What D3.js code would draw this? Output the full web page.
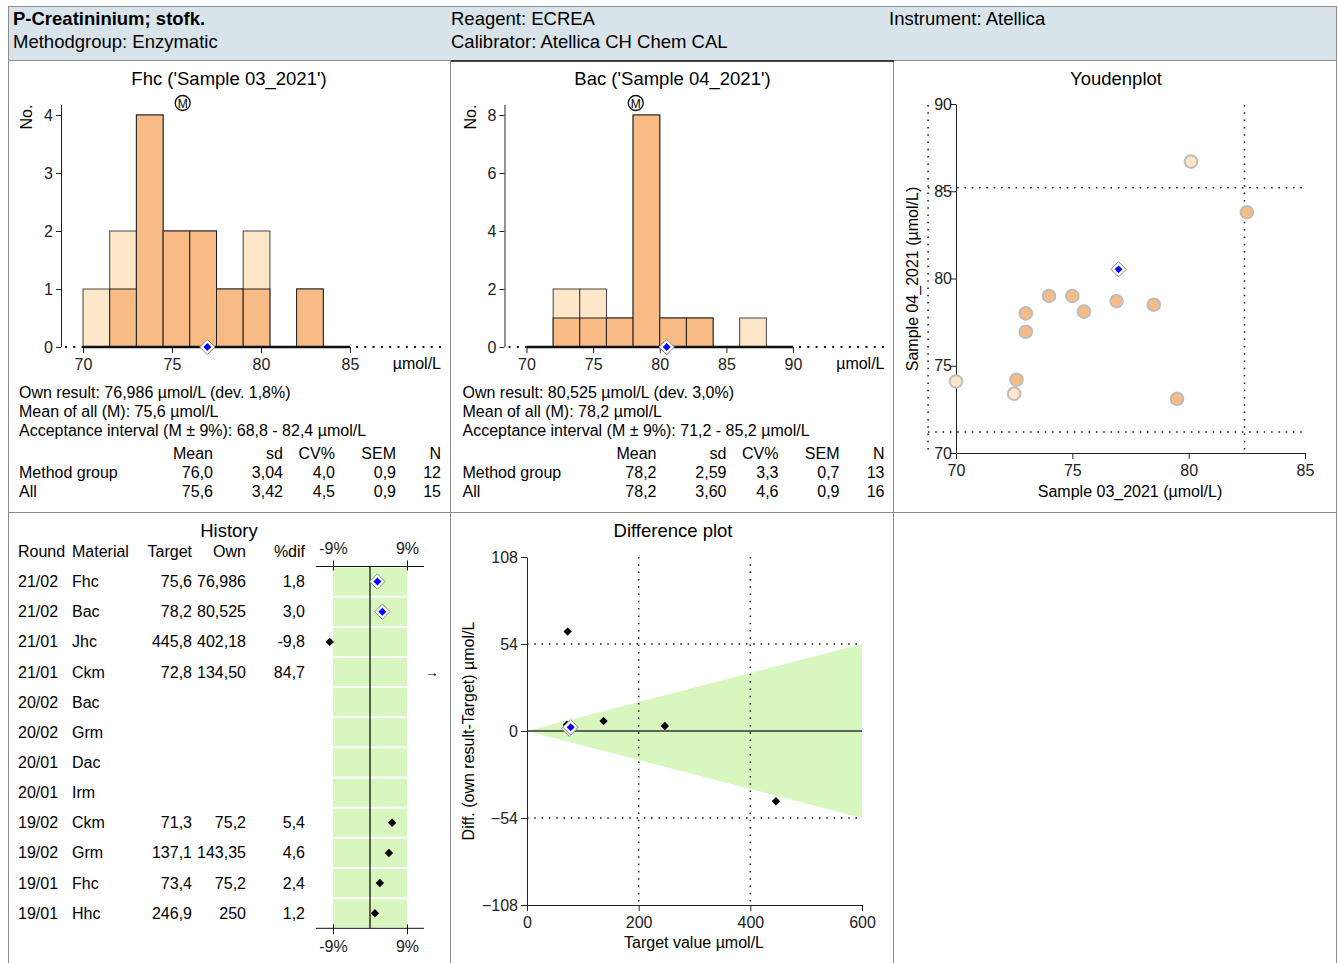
<!DOCTYPE html>
<html><head><meta charset="utf-8">
<script src="https://cdn.jsdelivr.net/npm/d3@7"></script>
<style>
body{margin:0;background:#fff}
svg{font-family:"Liberation Sans",Arial,sans-serif;font-size:16px}
</style></head><body>
<svg id="chart" width="1338" height="963"></svg>
<script>
// histogram data (bin edges, counts all / method group)
var fhcEdges = [70,71.5,73,74.5,76,77.5,79,80.5,82,83.5];
var fhcAll = [1,2,4,2,2,1,2,0,1];
var fhcMethod = [0,1,4,2,2,1,1,0,1];
var bacEdges = [72,74,76,78,80,82,84,86,88];
var bacAll = [2,2,1,8,1,1,0,1];
var bacMethod = [1,1,1,8,1,1,0,0];

var statCols = ["Mean","sd","CV%","SEM","N"];
var fhcStats = [["Method group","76,0","3,04","4,0","0,9","12"],["All","75,6","3,42","4,5","0,9","15"]];
var bacStats = [["Method group","78,2","2,59","3,3","0,7","13"],["All","78,2","3,60","4,6","0,9","16"]];

// youden plot points
var youdenX = [70.0,72.5,72.6,73.0,73.0,74.0,75.0,75.5,76.9,78.5,79.5,80.1,82.5];
var youdenY = [74.1,73.4,74.2,78.0,76.95,79.0,79.0,78.1,78.7,78.5,73.1,86.7,83.8];
var youdenMethod = [0,0,1,1,1,1,1,1,1,1,1,0,1];
var ownX = 76.986, ownY = 80.525;
var limX = [68.8,82.4], limY = [71.2,85.2];

// history
var histRound = ["21/02","21/02","21/01","21/01","20/02","20/02","20/01","20/01","19/02","19/02","19/01","19/01"];
var histMaterial = ["Fhc","Bac","Jhc","Ckm","Bac","Grm","Dac","Irm","Ckm","Grm","Fhc","Hhc"];
var histTarget = ["75,6","78,2","445,8","72,8","","","","","71,3","137,1","73,4","246,9"];
var histOwn = ["76,986","80,525","402,18","134,50","","","","","75,2","143,35","75,2","250"];
var histDif = [1.8,3.0,-9.8,84.7,null,null,null,null,5.4,4.6,2.4,1.2];
var histCurrent = [1,1,0,0,0,0,0,0,0,0,0,0];

var svg = d3.select("#chart");
var ink = "#222";
var orange = "#f9bb85", lightOrange = "#fee6c8", green = "#d8f7bf";
var tickFont = 16, titleFont = 18.5;
var num = function(s){ return +s.replace(",", "."); };
var fmt = function(v){ return v.toFixed(1).replace(".", ","); };

// ----- frame
svg.append("rect").attr("x",8.5).attr("y",6.5).attr("width",1328).attr("height",54)
  .attr("fill","#d8e4ea").attr("stroke","#8c8c8c");
svg.append("text").attr("x",13).attr("y",25).attr("font-weight","bold").attr("font-size",18.5).text("P-Creatininium; stofk.");
svg.append("text").attr("x",13).attr("y",48).attr("font-size",18.5).text("Methodgroup: Enzymatic");
svg.append("text").attr("x",451).attr("y",25).attr("font-size",18.5).text("Reagent: ECREA");
svg.append("text").attr("x",451).attr("y",48).attr("font-size",18.5).text("Calibrator: Atellica CH Chem CAL");
svg.append("text").attr("x",889).attr("y",25).attr("font-size",18.5).text("Instrument: Atellica");

[[8.5,60,8.5,963],[450.5,60,450.5,963],[893.5,60,893.5,963],[1336.5,60,1336.5,963],[8,512.5,1337,512.5]]
  .forEach(function(l){
    svg.append("line").attr("x1",l[0]).attr("y1",l[1]).attr("x2",l[2]).attr("y2",l[3]).attr("stroke","#8c8c8c");
  });
svg.append("line").attr("x1",451).attr("x2",894).attr("y1",61).attr("y2",61).attr("stroke","#111").attr("stroke-width",1.5);

function ownDiamond(g, x, y, s){
  s = s || 1;
  g.append("path").attr("d", d3.symbol(d3.symbolDiamond2, 150*s*s)())
    .attr("transform","translate("+x+","+y+")").attr("fill","#fff").attr("stroke","#888").attr("stroke-width",1);
  g.append("path").attr("d", d3.symbol(d3.symbolDiamond2, 40*s*s)())
    .attr("transform","translate("+x+","+y+")").attr("fill","#0000ff");
}
function blackDiamond(g, x, y){
  g.append("path").attr("d", d3.symbol(d3.symbolDiamond2, 45)())
    .attr("transform","translate("+x+","+y+")").attr("fill","#000");
}
function styleAxis(a){
  a.attr("font-size",tickFont).attr("font-family",null);
  a.selectAll("line").attr("stroke",ink);
  a.selectAll("text").attr("fill",ink);
}

// ----- histograms
function histogram(dx, title, edges, all, method, xDom, xTicks, yMax, yTicks, own, mean, lines, stats){
  var g = svg.append("g");
  var x = d3.scaleLinear().domain(xDom).range([83+dx, 350+dx + (xDom[1]-xDom[0] === 20 ? -0.5 : 0)]);
  var y = d3.scaleLinear().domain([0,yMax]).range([347,115]);
  var ax = 61 + dx;

  g.append("text").attr("x",229+dx).attr("y",85).attr("text-anchor","middle").attr("font-size",titleFont).text(title);

  var bins = d3.range(all.length);
  g.selectAll(".all").data(bins.filter(function(i){return all[i]>0;})).join("rect")
    .attr("x",function(i){return x(edges[i]);}).attr("width",function(i){return x(edges[i+1])-x(edges[i]);})
    .attr("y",function(i){return y(all[i]);}).attr("height",function(i){return y(0)-y(all[i]);})
    .attr("fill",lightOrange).attr("stroke","#444").attr("stroke-width",1);
  g.selectAll(".meth").data(bins.filter(function(i){return method[i]>0;})).join("rect")
    .attr("x",function(i){return x(edges[i]);}).attr("width",function(i){return x(edges[i+1])-x(edges[i]);})
    .attr("y",function(i){return y(method[i]);}).attr("height",function(i){return y(0)-y(method[i]);})
    .attr("fill",orange).attr("stroke","#222").attr("stroke-width",1);

  // y axis
  var yAxis = g.append("g").attr("transform","translate("+ax+",0)")
    .call(d3.axisLeft(y).tickValues(yTicks).tickFormat(d3.format("d")).tickSize(5).tickSizeOuter(0));
  yAxis.select(".domain").remove();
  styleAxis(yAxis);
  g.append("line").attr("x1",ax+0.5).attr("x2",ax+0.5).attr("y1",105).attr("y2",347).attr("stroke",ink);
  g.append("text").attr("transform","translate("+(32+dx)+",117) rotate(-90)").attr("text-anchor","middle").attr("font-size",tickFont).text("No.");

  // x axis
  var xAxis = g.append("g").attr("transform","translate(0,347)")
    .call(d3.axisBottom(x).tickValues(xTicks).tickSize(6).tickSizeOuter(0));
  xAxis.select(".domain").remove();
  styleAxis(xAxis);
  xAxis.selectAll("text").attr("dy","0.85em");
  g.append("line").attr("x1",x(xDom[0])).attr("x2",x(xDom[1])).attr("y1",347).attr("y2",347).attr("stroke","#111").attr("stroke-width",2.5);
  g.append("line").attr("x1",ax+4).attr("x2",x(xDom[0])).attr("y1",347).attr("y2",347)
    .attr("stroke","#111").attr("stroke-width",2).attr("stroke-dasharray","2,6.3");
  g.append("line").attr("x1",x(xDom[1])+6).attr("x2",442+dx).attr("y1",347).attr("y2",347)
    .attr("stroke","#111").attr("stroke-width",2).attr("stroke-dasharray","2,6.3");
  g.append("text").attr("x",441+dx).attr("y",369).attr("text-anchor","end").attr("font-size",tickFont).text("µmol/L");

  // mean marker and own result
  g.append("circle").attr("cx",x(mean)).attr("cy",103).attr("r",7.5).attr("fill","#fff").attr("stroke","#111").attr("stroke-width",1.3);
  g.append("text").attr("x",x(mean)).attr("y",107.5).attr("text-anchor","middle").attr("font-size",12).text("M");
  ownDiamond(g, x(own), 347);

  // text block
  lines.forEach(function(t,i){
    g.append("text").attr("x",19+dx).attr("y",398+i*19).text(t);
  });
  var colX = [213,283,335,396,441];
  statCols.forEach(function(c,j){
    g.append("text").attr("x",colX[j]+dx).attr("y",459).attr("text-anchor","end").text(c);
  });
  stats.forEach(function(r,i){
    r.forEach(function(v,j){
      g.append("text").attr("x", j===0 ? 19+dx : colX[j-1]+dx).attr("y",478+i*18.5)
        .attr("text-anchor", j===0 ? "start" : "end").text(v);
    });
  });
}

histogram(0, "Fhc ('Sample 03_2021')", fhcEdges, fhcAll, fhcMethod, [70,85], [70,75,80,85], 4, [0,1,2,3,4], 76.986, 75.6,
  ["Own result: 76,986 µmol/L (dev. 1,8%)","Mean of all (M): 75,6 µmol/L","Acceptance interval (M ± 9%): 68,8 - 82,4 µmol/L"], fhcStats);
histogram(443.5, "Bac ('Sample 04_2021')", bacEdges, bacAll, bacMethod, [70,90], [70,75,80,85,90], 8, [0,2,4,6,8], 80.525, 78.2,
  ["Own result: 80,525 µmol/L (dev. 3,0%)","Mean of all (M): 78,2 µmol/L","Acceptance interval (M ± 9%): 71,2 - 85,2 µmol/L"], bacStats);

// ----- youden plot
(function(){
  var g = svg.append("g");
  var x = d3.scaleLinear().domain([70,85]).range([956,1305]);
  var y = d3.scaleLinear().domain([70,90]).range([453,104]);
  g.append("text").attr("x",1116).attr("y",85).attr("text-anchor","middle").attr("font-size",titleFont).text("Youdenplot");

  limX.forEach(function(v){
    g.append("line").attr("x1",x(v)).attr("x2",x(v)).attr("y1",105).attr("y2",453)
      .attr("stroke","#111").attr("stroke-width",1.5).attr("stroke-dasharray","1.5,5.8");
  });
  limY.forEach(function(v){
    g.append("line").attr("x1",928).attr("x2",1303).attr("y1",y(v)).attr("y2",y(v))
      .attr("stroke","#111").attr("stroke-width",1.5).attr("stroke-dasharray","1.5,5.8");
  });

  var xa = g.append("g").attr("transform","translate(0,453)").call(d3.axisBottom(x).tickValues([70,75,80,85]).tickSize(6).tickSizeOuter(0));
  var ya = g.append("g").attr("transform","translate(956,0)").call(d3.axisLeft(y).tickValues([70,75,80,85,90]).tickSize(6).tickSizeOuter(0));
  [xa,ya].forEach(function(a){
    styleAxis(a);
    a.select(".domain").attr("stroke",ink);
  });
  xa.selectAll("text").attr("dy","0.85em");
  ya.selectAll("text").attr("x",-4);
  g.append("text").attr("x",1130).attr("y",497).attr("text-anchor","middle").attr("font-size",tickFont).text("Sample 03_2021 (µmol/L)");
  g.append("text").attr("transform","translate(918,279) rotate(-90)").attr("text-anchor","middle").attr("font-size",tickFont).text("Sample 04_2021 (µmol/L)");

  g.selectAll(".pt").data(d3.range(youdenX.length)).join("circle")
    .attr("cx",function(i){return x(youdenX[i]);}).attr("cy",function(i){return y(youdenY[i]);}).attr("r",6.3)
    .attr("fill",function(i){return youdenMethod[i] ? orange : lightOrange;})
    .attr("stroke","#bdbdbd").attr("stroke-width",2);
  ownDiamond(g, x(ownX), y(ownY));
})();

// ----- history
(function(){
  var g = svg.append("g");
  var x = d3.scaleLinear().domain([-9,9]).range([333,407]);
  var rowH = 30.15, top = 566.5;
  g.append("text").attr("x",229).attr("y",537).attr("text-anchor","middle").attr("font-size",titleFont).text("History");
  var hdr = [["Round",18,"start"],["Material",72,"start"],["Target",192,"end"],["Own",246,"end"],["%dif",305,"end"]];
  hdr.forEach(function(h){
    g.append("text").attr("x",h[1]).attr("y",557).attr("text-anchor",h[2]).text(h[0]);
  });

  histRound.forEach(function(r,i){
    g.append("rect").attr("x",x(-9)).attr("width",x(9)-x(-9)).attr("y",top+i*rowH+1).attr("height",rowH-2).attr("fill",green);
  });
  g.append("line").attr("x1",x(0)).attr("x2",x(0)).attr("y1",top).attr("y2",top+12*rowH).attr("stroke","#000").attr("stroke-width",1.2);

  [top, top+12*rowH].forEach(function(yy,k){
    var a = g.append("g").attr("transform","translate(0,"+yy+")")
      .call((k===0 ? d3.axisTop(x) : d3.axisBottom(x)).tickValues([-9,9]).tickSize(6).tickSizeOuter(0)
        .tickFormat(function(d){return d+"%";}));
    a.select(".domain").remove();
    styleAxis(a);
    a.selectAll("line").attr("stroke","#111").attr("y1", k===0 ? 4 : -4);
    a.selectAll("text").attr("dy", k===0 ? "-0.2em" : "0.9em");
    g.append("line").attr("x1",316).attr("x2",424).attr("y1",yy).attr("y2",yy).attr("stroke","#111");
  });

  histRound.forEach(function(r,i){
    var yc = top + (i+0.5)*rowH + 5.5;
    g.append("text").attr("x",18).attr("y",yc).text(r);
    g.append("text").attr("x",72).attr("y",yc).text(histMaterial[i]);
    g.append("text").attr("x",192).attr("y",yc).attr("text-anchor","end").text(histTarget[i]);
    g.append("text").attr("x",246).attr("y",yc).attr("text-anchor","end").text(histOwn[i]);
    var d = histDif[i];
    if (d === null) return;
    g.append("text").attr("x",305).attr("y",yc).attr("text-anchor","end").text(fmt(d));
    var ym = top + (i+0.5)*rowH;
    if (d > 12) {
      g.append("text").attr("x",432).attr("y",ym+4.5).attr("text-anchor","middle").attr("font-size",14).text("→");
    } else if (histCurrent[i]) {
      ownDiamond(g, x(d), ym);
    } else {
      blackDiamond(g, x(d), ym);
    }
  });
})();

// ----- difference plot
(function(){
  var g = svg.append("g");
  var x = d3.scaleLinear().domain([0,600]).range([527,862]);
  var y = d3.scaleLinear().domain([-108,108]).range([905,557]);
  g.append("text").attr("x",673).attr("y",537).attr("text-anchor","middle").attr("font-size",titleFont).text("Difference plot");

  g.append("path").attr("d", d3.line()([[x(0),y(0)],[x(600),y(600*0.09)],[x(600),y(-600*0.09)]]) + "Z").attr("fill",green);

  [200,400].forEach(function(v){
    g.append("line").attr("x1",x(v)).attr("x2",x(v)).attr("y1",557).attr("y2",905)
      .attr("stroke","#111").attr("stroke-width",1.5).attr("stroke-dasharray","1.5,5.8");
  });
  [54,-54].forEach(function(v){
    g.append("line").attr("x1",x(0)).attr("x2",x(600)).attr("y1",y(v)).attr("y2",y(v))
      .attr("stroke","#111").attr("stroke-width",1.5).attr("stroke-dasharray","1.5,5.8");
  });
  g.append("line").attr("x1",x(0)).attr("x2",x(600)).attr("y1",y(0)).attr("y2",y(0)).attr("stroke","#333").attr("stroke-width",1.3);

  var xa = g.append("g").attr("transform","translate(0,905)").call(d3.axisBottom(x).tickValues([0,200,400,600]).tickSize(6).tickSizeOuter(0));
  var ya = g.append("g").attr("transform","translate(527,0)").call(d3.axisLeft(y).tickValues([-108,-54,0,54,108]).tickSize(6).tickSizeOuter(0));
  [xa,ya].forEach(function(a){
    styleAxis(a);
    a.select(".domain").attr("stroke",ink);
  });
  xa.selectAll("text").attr("dy","0.85em");
  g.append("text").attr("x",694).attr("y",948).attr("text-anchor","middle").attr("font-size",tickFont).text("Target value µmol/L");
  g.append("text").attr("transform","translate(474,731) rotate(-90)").attr("text-anchor","middle").attr("font-size",tickFont).text("Diff. (own result-Target) µmol/L");

  var pts = d3.range(histDif.length).filter(function(i){return histDif[i] !== null;});
  pts.filter(function(i){return !histCurrent[i];}).forEach(function(i){
    var t = num(histTarget[i]);
    blackDiamond(g, x(t), y(num(histOwn[i]) - t));
  });
  pts.filter(function(i){return histCurrent[i];}).forEach(function(i){
    var t = num(histTarget[i]);
    ownDiamond(g, x(t), y(num(histOwn[i]) - t));
  });
})();
</script>
</body></html>
